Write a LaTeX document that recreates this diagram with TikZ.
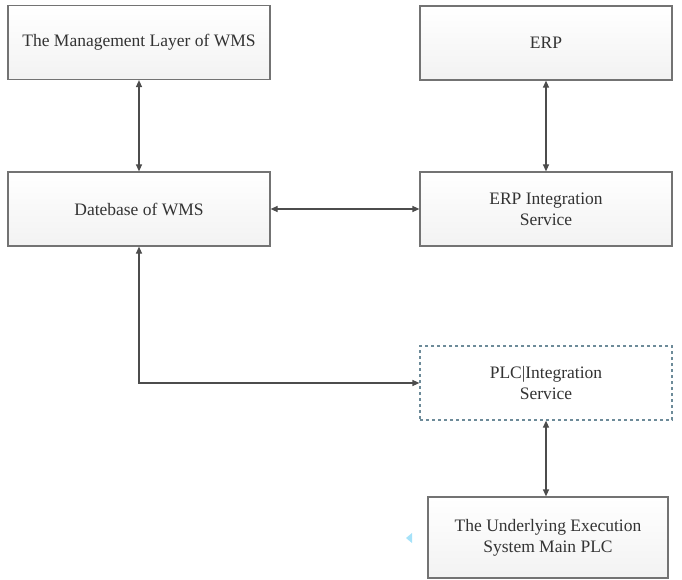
\documentclass[tikz,border=0pt]{standalone}
\usepackage{fontspec}
\setmainfont{Liberation Serif}
\usetikzlibrary{arrows.meta,positioning}

\tikzset{
  box/.style={draw=black!55, line width=1.2pt, top color=white, bottom color=black!5,
    minimum width=252pt, minimum height=74pt, inner sep=0pt, align=center,
    text=black!80, font=\fontsize{17.5}{21}\selectfont},
  dashbox/.style={box, draw=cyan!40!black!75, dashed, top color=white, bottom color=white},
  link/.style={draw=black!70, line width=1.2pt,
    {Triangle[length=7pt,width=6pt]}-{Triangle[length=7pt,width=6pt]}}
}

\begin{document}
\begin{tikzpicture}[x=1pt,y=-1pt]
  \useasboundingbox (0,0) rectangle (682,580);
  % upper row
  \node[box,minimum width=262pt] (mgmt) at (139,42.5) {The Management Layer of WMS};
  \node[box] (erp) at (546,43) {ERP};
  % middle row
  \node[box,minimum width=262pt] (dbase) at (139,209) {Datebase of WMS};
  \node[box] (erpint) at (546,209) {ERP Integration\\Service};
  % lower part
  \node[dashbox] (plc) at (546,383) {PLC|Integration\\Service};
  \node[box,minimum width=240pt,minimum height=81pt] (base) at (548,537.5)
    {The Underlying Execution\\System Main PLC};
  \draw[link] (mgmt.south) -- (dbase.north);
  \draw[link] (erp.south) -- (erpint.north);
  \draw[link] (dbase) -- (erpint);
  \draw[link] (dbase.south) |- (plc.west);
  \draw[link] (plc.south) -- (plc.south |- base.north);
  % small marker left of the bottom box
  \fill[cyan!35] (406,538) -- (412,533) -- (412,543) -- cycle;
\end{tikzpicture}
\end{document}
